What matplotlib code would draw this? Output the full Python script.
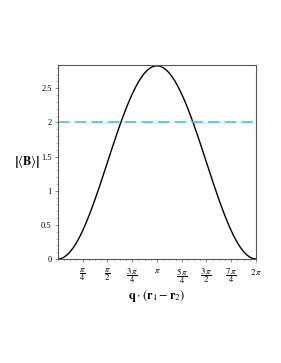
import numpy as np
import matplotlib
matplotlib.use("Agg")
from matplotlib import pyplot as plt
from matplotlib.ticker import AutoMinorLocator

plt.rcParams['font.family'] = ['Liberation Serif', 'DejaVu Serif']
plt.rcParams['mathtext.fontset'] = 'stix'

# values, at steps of pi/32 (0 .. 2 pi)
steps = np.arange(65)
B_abs = [0.000, 0.007, 0.027, 0.061, 0.108, 0.167, 0.238, 0.321,
         0.414, 0.517, 0.629, 0.748, 0.873, 1.004, 1.138, 1.276,
         1.414, 1.553, 1.690, 1.825, 1.955, 2.081, 2.200, 2.311,
         2.414, 2.507, 2.590, 2.662, 2.721, 2.768, 2.801, 2.822,
         2.828,
         2.822, 2.801, 2.768, 2.721, 2.662, 2.590, 2.507, 2.414,
         2.311, 2.200, 2.081, 1.955, 1.825, 1.690, 1.553, 1.414,
         1.276, 1.138, 1.004, 0.873, 0.748, 0.629, 0.517, 0.414,
         0.321, 0.238, 0.167, 0.108, 0.061, 0.027, 0.007, 0.000]
bound = 2.0

tick_labels = [r'$\dfrac{\pi}{4}$', r'$\dfrac{\pi}{2}$', r'$\dfrac{3\,\pi}{4}$', r'$\pi$',
               r'$\dfrac{5\,\pi}{4}$', r'$\dfrac{3\,\pi}{2}$', r'$\dfrac{7\,\pi}{4}$', r'$2\,\pi$']
yticks = [0, 0.5, 1, 1.5, 2, 2.5]
ytick_labels = ['0', '0.5', '1', '1.5', '2', '2.5']

x = steps * np.pi / 32

fig = plt.figure(figsize=(2.81, 3.63), dpi=100)
ax = fig.add_axes([0.206, 0.2865, 0.705, 0.5345])

ax.plot(x, B_abs, color='black', lw=1.0)
ax.axhline(bound, color='#40c8c8', lw=1.2, dashes=(7, 3))

ax.set_xlim(0, 2 * np.pi)
ax.set_ylim(0, 2.84)
ax.set_xticks(np.arange(1, 9) * np.pi / 4)
ax.set_xticklabels(tick_labels)
ax.set_yticks(yticks)
ax.set_yticklabels(ytick_labels)
ax.xaxis.set_minor_locator(AutoMinorLocator(4))
ax.yaxis.set_minor_locator(AutoMinorLocator(5))
ax.tick_params(which='major', direction='out', length=2.5, width=0.6, labelsize=6, pad=2,
               color='#777777')
ax.tick_params(axis='x', which='major', labelsize=6.3, pad=3)
ax.tick_params(which='minor', direction='out', length=1.5, width=0.5, color='#aaaaaa')
for s in ax.spines.values():
    s.set_color('#555555')
    s.set_linewidth(0.8)

ax.set_xlabel(r'$\mathbf{q}\cdot\left(\mathbf{r}_1-\mathbf{r}_2\right)$', fontsize=9, labelpad=1)
ax.set_ylabel(r'$\left|\langle\mathbf{B}\rangle\right|$', fontsize=9, rotation=0,
              labelpad=10, va='center')

fig.savefig('out.png', dpi=100)
